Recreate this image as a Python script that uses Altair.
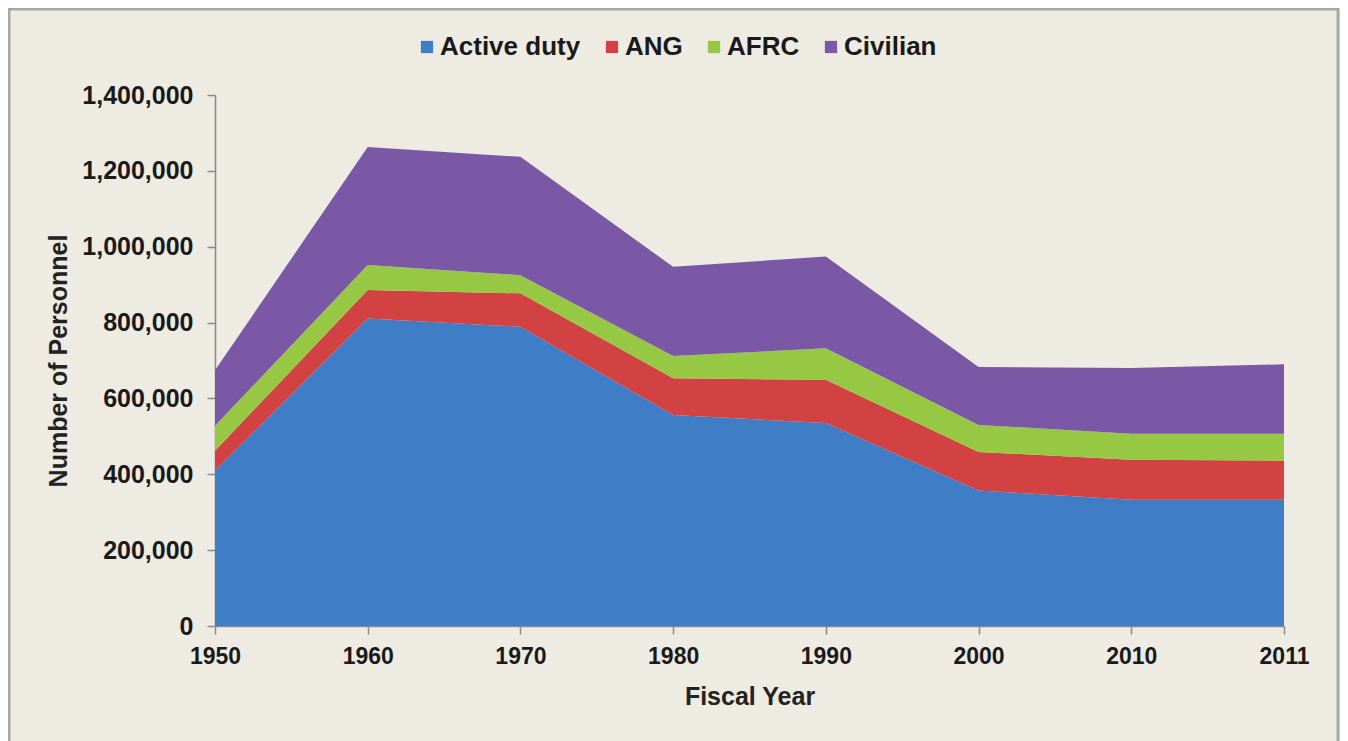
import altair as alt
import pandas as pd

years = ["1950", "1960", "1970", "1980", "1990", "2000", "2010", "2011"]
series = ["Active duty", "ANG", "AFRC", "Civilian"]
active_duty = [410000, 811000, 789000, 556000, 535000, 357000, 333000, 333000]
ang = [52000, 75000, 88000, 97000, 114000, 102000, 105000, 103000]
afrc = [66000, 66000, 48000, 59000, 83000, 71000, 69000, 71000]
civilian = [146000, 311000, 312000, 235000, 242000, 153000, 173000, 183000]
colors = ["#3F7EC6", "#D24243", "#97C844", "#7A58A6"]
y_ticks = [0, 200000, 400000, 600000, 800000, 1000000, 1200000, 1400000]

rows = []
for i, (name, vals) in enumerate(zip(series, [active_duty, ang, afrc, civilian])):
    for y, v in zip(years, vals):
        rows.append({"year": y, "series": name, "value": v, "ord": i})
df = pd.DataFrame(rows)

FONT = "Liberation Sans"
W, H = 1069, 531

area = alt.Chart(df).mark_area(opacity=1).encode(
    x=alt.X("year:O", sort=years,
            scale=alt.Scale(type="point", padding=0),
            axis=alt.Axis(title="Fiscal Year", labelAngle=0, labelFontSize=23,
                          labelFont=FONT, labelFontWeight="bold", labelColor="#1a1a1a",
                          titleFont=FONT, titleFontSize=25, titleFontWeight="bold",
                          titleColor="#222222", titlePadding=16, labelPadding=11,
                          tickSize=8, tickColor="#8a8a8a", domainColor="#8a8a8a",
                          domainWidth=1.5, tickWidth=1.5)),
    y=alt.Y("value:Q", stack="zero",
            scale=alt.Scale(domain=[0, 1400000], nice=False),
            axis=alt.Axis(title="Number of Personnel", values=y_ticks, format=",d",
                          labelFontSize=25, labelFont=FONT, labelFontWeight="bold",
                          labelColor="#1a1a1a", titleFont=FONT, titleFontSize=25,
                          titleFontWeight="bold", titleColor="#222222",
                          titlePadding=10, labelPadding=14, tickSize=8,
                          tickColor="#8a8a8a", domainColor="#8a8a8a",
                          domainWidth=1.5, tickWidth=1.5, grid=False)),
    color=alt.Color("series:N", sort=series,
                    scale=alt.Scale(domain=series, range=colors),
                    legend=alt.Legend(title=None, orient="none", direction="horizontal",
                                      legendX=199, legendY=-61, symbolType="square",
                                      symbolSize=150, symbolStrokeWidth=0,
                                      labelFont=FONT, labelFontSize=26,
                                      labelFontWeight="bold", labelColor="#1a1a1a",
                                      labelOffset=0, columnPadding=18)),
    order=alt.Order("ord:Q", sort="ascending"),
)

frame = alt.Chart(pd.DataFrame({"a": [0]})).mark_rect(
    fill=None, stroke="#A8A8A2", strokeWidth=3
).encode(
    x=alt.value(-206), x2=alt.value(W + 54),
    y=alt.value(-86), y2=alt.value(H + 140),
)

chart = alt.layer(area, frame).properties(
    width=W, height=H,
    background="#EEEBE3",
    padding={"left": 207, "top": 87, "right": 56, "bottom": 115},
    autosize=alt.AutoSizeParams(type="none"),
).configure_view(stroke=None)

chart.save("out.html", embed_options={"renderer": "svg", "actions": False})
